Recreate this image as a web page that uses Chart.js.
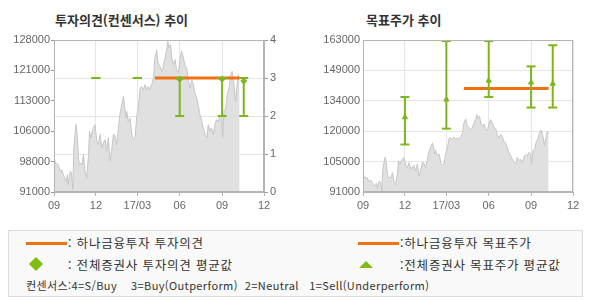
<!DOCTYPE html>
<html lang="ko">
<head>
  <meta charset="UTF-8" />
  <title>투자의견 / 목표주가 추이</title>
  <script src="https://cdn.jsdelivr.net/npm/chart.js"></script>
  <style>
    body { margin: 0; width: 590px; height: 300px; position: relative; overflow: hidden; background: #fff;
           font-family: "Noto Sans CJK KR", sans-serif; color: #333; }
    .title { position: absolute; top: 11px; font-size: 13px; font-weight: bold; color: #333; line-height: 18px; }
    .wrap { position: absolute; top: 0; }
    .legend { position: absolute; left: 8px; top: 230px; width: 573px; height: 65px; border: 1px solid #dcdcdc; background: #f9f9f9; }
    .lg { position: absolute; font-size: 12.5px; line-height: 16px; white-space: pre; letter-spacing: 0.8px; }
    .ln { position: absolute; height: 3px; background: #f07012; }
    .dia { position: absolute; width: 10px; height: 10px; background: #80bc14; transform: rotate(45deg); }
    .tri { position: absolute; width: 0; height: 0; border-left: 7px solid transparent; border-right: 7px solid transparent; border-bottom: 7px solid #80bc14; }
    .note { position: absolute; left: 17px; top: 47px; font-size: 11px; line-height: 14px; white-space: pre; color: #333; letter-spacing: 0.4px; }
  </style>
</head>
<body>
  <div class="title" style="left:55px;">투자의견(컨센서스) 추이</div>
  <div class="title" style="left:366px;">목표주가 추이</div>
  <div class="wrap" style="left:0;"><canvas id="opinionChart" width="295" height="215"></canvas></div>
  <div class="wrap" style="left:300px;"><canvas id="targetChart" width="290" height="215"></canvas></div>

  <div class="legend">
    <div class="ln" style="left:17px; top:11px; width:41px;"></div>
    <div class="lg" style="left:59px; top:4px;">: 하나금융투자 투자의견</div>
    <div class="ln" style="left:349px; top:11px; width:41px;"></div>
    <div class="lg" style="left:391px; top:4px;">:하나금융투자 목표주가</div>
    <div class="dia" style="left:22px; top:28px;"></div>
    <div class="lg" style="left:59px; top:26px;">: 전체증권사 투자의견 평균값</div>
    <div class="tri" style="left:350px; top:30px;"></div>
    <div class="lg" style="left:391px; top:26px;">:전체증권사 목표주가 평균값</div>
    <div class="note">컨센서스:4=S/Buy    3=Buy(Outperform)  2=Neutral   1=Sell(Underperform)</div>
  </div>

  <script>
    // stock price (both charts share it)
    const priceDates = [
      '2016-09-01', '2016-09-03', '2016-09-10', '2016-09-14', '2016-09-18', '2016-09-21', '2016-09-27', '2016-09-30',
      '2016-10-02', '2016-10-06', '2016-10-09', '2016-10-12', '2016-10-14', '2016-10-17', '2016-10-19', '2016-10-22',
      '2016-10-24', '2016-10-26', '2016-10-29', '2016-11-01', '2016-11-04', '2016-11-07', '2016-11-11', '2016-11-15',
      '2016-11-17', '2016-11-20', '2016-11-24', '2016-11-29', '2016-12-03', '2016-12-06', '2016-12-10', '2016-12-14',
      '2016-12-17', '2016-12-21', '2016-12-24', '2016-12-28', '2017-01-01', '2017-01-04', '2017-01-08', '2017-01-11',
      '2017-01-15', '2017-01-19', '2017-01-22', '2017-01-26', '2017-01-30', '2017-02-01', '2017-02-04', '2017-02-06',
      '2017-02-09', '2017-02-13', '2017-02-17', '2017-02-20', '2017-02-24', '2017-02-28', '2017-03-03', '2017-03-07',
      '2017-03-10', '2017-03-14', '2017-03-18', '2017-03-21', '2017-03-25', '2017-03-28', '2017-04-01', '2017-04-05',
      '2017-04-08', '2017-04-12', '2017-04-15', '2017-04-19', '2017-04-23', '2017-04-26', '2017-04-30', '2017-05-04',
      '2017-05-06', '2017-05-09', '2017-05-12', '2017-05-15', '2017-05-18', '2017-05-22', '2017-05-25', '2017-05-29',
      '2017-06-02', '2017-06-05', '2017-06-09', '2017-06-12', '2017-06-16', '2017-06-20', '2017-06-23', '2017-06-27',
      '2017-06-30', '2017-07-04', '2017-07-08', '2017-07-11', '2017-07-15', '2017-07-19', '2017-07-22', '2017-07-26',
      '2017-07-30', '2017-08-02', '2017-08-06', '2017-08-09', '2017-08-13', '2017-08-17', '2017-08-20', '2017-08-24',
      '2017-08-27', '2017-08-31', '2017-09-02', '2017-09-05', '2017-09-09', '2017-09-12', '2017-09-16', '2017-09-20',
      '2017-09-23', '2017-09-27', '2017-09-30', '2017-10-03', '2017-10-06', '2017-10-09'
    ];
    const prices = [
      98800, 98000, 97700, 96000, 96500, 95200, 93600, 95200,
      92800, 96000, 95600, 91600, 101700, 105400, 107400, 104200,
      99300, 97700, 98100, 97700, 100100, 96500, 94400, 100100,
      105800, 104200, 106200, 107400, 103300, 102500, 105000, 101700,
      102900, 103700, 100900, 104200, 98500, 100900, 105000, 104800,
      102500, 106600, 109800, 112300, 114300, 112300, 109000, 110600,
      108200, 109000, 105000, 103700, 104200, 109800, 111500, 116300,
      116700, 115900, 117100, 115900, 116700, 115900, 117100, 118800,
      123600, 125600, 122400, 121600, 120400, 121200, 123600, 125600,
      127700, 126100, 126900, 123600, 122000, 123200, 120800, 120000,
      123600, 125300, 123600, 122000, 121200, 117900, 116300, 118300,
      117500, 115100, 113900, 112300, 109800, 108200, 106600, 105000,
      104200, 107400, 105800, 106600, 105000, 107800, 108600, 108200,
      109800, 109000, 104200, 110600, 111500, 114700, 116300, 119600,
      120400, 117100, 113100, 116300, 119600, 118500
    ];

    // consensus (all brokers)
    const consDates = ['2016-12-01', '2017-03-01', '2017-06-01', '2017-09-01', '2017-10-18'];
    const opinionMax = [3, 3, 3, 3, 3];
    const opinionMin = [3, 3, 2, 2, 2];
    const opinionAvg = [null, null, 2.97, 2.97, 2.92];
    const targetMax = [136000, 162500, 162500, 150500, 160500];
    const targetMin = [113500, 121000, 136000, 131000, 131000];
    const targetAvg = [126400, 134800, 143800, 142900, 142300];

    // 하나금융투자
    const houseDates = ['2017-04-08', '2017-10-09'];
    const houseOpinion = [3, 3];
    const houseTarget = [140000, 140000];

    // axes
    const monthTicks = ['2016-09-01', '2016-12-01', '2017-03-01', '2017-06-01', '2017-09-01', '2017-12-01'];
    const monthLabels = ['09', '12', '17/03', '06', '09', '12'];
    const opinionPriceLabels = ['91000', '98000', '106000', '113000', '121000', '128000'];
    const opinionLabels = ['0', '1', '2', '3', '4'];
    const targetPriceLabels = ['91000', '105000', '120000', '134000', '149000', '163000'];

    const t0 = Date.parse(monthTicks[0]);
    const day = d => (Date.parse(d) - t0) / 86400000;

    const GREEN = '#7db61c';
    const ORANGE = '#f07012';
    const gridColor = '#e6e6e6';
    const axisColor = '#b4b4b4';
    const tickFont = { family: '"Liberation Sans", Arial, sans-serif', size: 11 };

    const priceData = priceDates.map((d, i) => ({ x: day(d), y: prices[i] }));
    const pairs = (dates, vals) => dates.map((d, i) => ({ x: day(d), y: vals[i] }));
    // min..max segments, split by nulls
    function ranges(lo, hi) {
      const out = [];
      consDates.forEach((d, i) => {
        out.push({ x: day(d), y: lo[i] }, { x: day(d), y: hi[i] }, { x: day(d), y: null });
      });
      return out;
    }

    // box around the plot area
    const frame = {
      id: 'frame',
      afterDatasetsDraw(chart) {
        const { ctx, chartArea: a } = chart;
        ctx.save();
        ctx.strokeStyle = axisColor;
        ctx.lineWidth = 1;
        ctx.strokeRect(Math.round(a.left) + 0.5, Math.round(a.top) + 0.5,
          Math.round(a.right - a.left) - 1, Math.round(a.bottom - a.top) - 1);
        ctx.restore();
      }
    };

    function xScale() {
      return {
        type: 'linear',
        min: day(monthTicks[0]),
        max: day(monthTicks[monthTicks.length - 1]),
        afterBuildTicks: ax => { ax.ticks = monthTicks.map(d => ({ value: day(d) })); },
        ticks: { callback: (v, i) => monthLabels[i], color: '#666', font: tickFont, padding: 3, maxRotation: 0, autoSkip: false },
        grid: { color: gridColor, tickLength: 4, tickColor: axisColor },
        border: { color: axisColor },
        afterFit: ax => { ax.height = 23; }
      };
    }

    function priceSet(axis) {
      return {
        type: 'line', data: priceData, yAxisID: axis, order: 5,
        fill: 'start', backgroundColor: '#e0e0e0', borderColor: '#c6c6c6', borderWidth: 1,
        pointRadius: 0, tension: 0
      };
    }
    function houseSet(vals, axis) {
      return {
        type: 'line', data: pairs(houseDates, vals), yAxisID: axis, order: 2,
        borderColor: ORANGE, borderWidth: 3, pointRadius: 0, fill: false
      };
    }
    function rangeSet(lo, hi, axis) {
      return {
        type: 'line', data: ranges(lo, hi), yAxisID: axis, order: 1, spanGaps: false,
        borderColor: GREEN, borderWidth: 2, fill: false,
        pointStyle: 'line', pointRadius: 4.5, pointBorderWidth: 2,
        pointBorderColor: GREEN, pointHoverRadius: 4.5
      };
    }
    function avgSet(vals, axis, style, r) {
      return {
        type: 'line', data: pairs(consDates, vals), yAxisID: axis, order: 0, showLine: false,
        pointStyle: style, pointRadius: r, pointBackgroundColor: GREEN, pointBorderColor: GREEN, pointBorderWidth: 1
      };
    }

    const common = {
      responsive: false,
      animation: false,
      plugins: { legend: { display: false }, tooltip: { enabled: false } },
      events: []
    };

    new Chart(document.getElementById('opinionChart'), {
      type: 'line',
      data: {
        datasets: [
          priceSet('yPrice'),
          houseSet(houseOpinion, 'yOp'),
          rangeSet(opinionMin, opinionMax, 'yOp'),
          avgSet(opinionAvg, 'yOp', 'rectRot', 3)
        ]
      },
      options: {
        ...common,
        layout: { padding: { top: 40, left: 0, right: 0, bottom: 0 } },
        scales: {
          x: xScale(),
          yPrice: {
            position: 'left', min: 91000, max: 128000,
            ticks: { stepSize: 7400, callback: (v, i) => opinionPriceLabels[i], color: '#666', font: tickFont, padding: 1 },
            grid: { drawOnChartArea: false, tickLength: 3, tickColor: '#999' },
            border: { color: axisColor },
            afterFit: ax => { ax.width = 54; }
          },
          yOp: {
            position: 'right', min: 0, max: 4,
            ticks: { stepSize: 1, callback: (v, i) => opinionLabels[i], color: '#666', font: tickFont, padding: 2 },
            grid: { color: gridColor, tickLength: 4, tickColor: '#999' },
            border: { color: axisColor },
            afterFit: ax => { ax.width = 31; }
          }
        }
      },
      plugins: [frame]
    });

    new Chart(document.getElementById('targetChart'), {
      type: 'line',
      data: {
        datasets: [
          priceSet('y'),
          houseSet(houseTarget, 'y'),
          rangeSet(targetMin, targetMax, 'y'),
          avgSet(targetAvg, 'y', 'triangle', 3)
        ]
      },
      options: {
        ...common,
        layout: { padding: { top: 40, left: 0, right: 17, bottom: 0 } },
        scales: {
          x: xScale(),
          y: {
            position: 'left', min: 91000, max: 163000,
            ticks: { stepSize: 14400, callback: (v, i) => targetPriceLabels[i], color: '#666', font: tickFont, padding: 3 },
            grid: { color: gridColor, drawTicks: false },
            border: { color: axisColor },
            afterFit: ax => { ax.width = 63; }
          }
        }
      },
      plugins: [frame]
    });
  </script>
</body>
</html>
